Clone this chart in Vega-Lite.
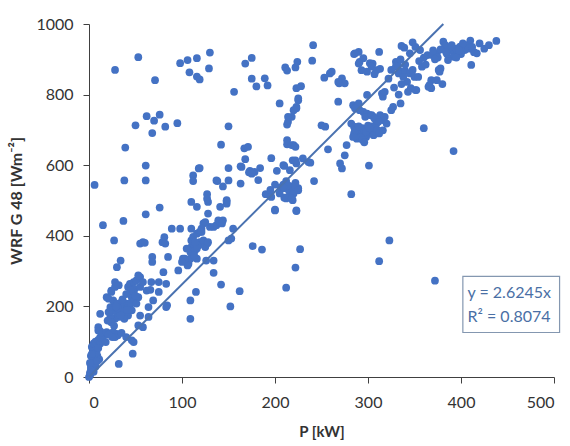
{
  "$schema": "https://vega.github.io/schema/vega-lite/v6.json",
  "width": 465,
  "height": 353,
  "autosize": "none",
  "padding": {"left": 89, "top": 24, "right": 16, "bottom": 69},
  "background": "white",
  "config": {
    "view": {"stroke": null},
    "font": "Lato",
    "axis": {
      "grid": false,
      "domainColor": "#404040",
      "tickColor": "#404040",
      "tickSize": 6,
      "labelFont": "Lato",
      "labelFontSize": 16,
      "labelColor": "#333333",
      "labelPadding": 8,
      "titleFont": "Lato",
      "titleFontSize": 15,
      "titleFontWeight": "bold",
      "titleColor": "#333333"
    }
  },
  "datasets": {
    "points": [
      {"P":0,"G":0},{"P":1,"G":5},{"P":1,"G":12},{"P":2,"G":20},{"P":2,"G":28},{"P":3,"G":35},{"P":4,"G":45},{"P":5,"G":52},{"P":2,"G":60},{"P":4,"G":70},{"P":6,"G":78},{"P":3,"G":85},{"P":8,"G":88},{"P":5,"G":95},{"P":7,"G":100},{"P":10,"G":105},{"P":12,"G":95},{"P":9,"G":60},{"P":11,"G":50},{"P":7,"G":30},{"P":4,"G":22},{"P":6,"G":40},{"P":8,"G":70},{"P":10,"G":82},{"P":12,"G":112},{"P":15,"G":113},{"P":18,"G":99},{"P":10,"G":132},{"P":10,"G":141},{"P":12,"G":130},{"P":6,"G":544},{"P":3,"G":65},{"P":1,"G":40},{"P":14,"G":125},{"P":2,"G":10},{"P":5,"G":15},{"P":9,"G":45},
      {"P":12,"G":179},{"P":19,"G":226},{"P":21,"G":222},{"P":24,"G":241},{"P":24,"G":245},{"P":28,"G":255},{"P":28,"G":269},{"P":32,"G":260},{"P":27,"G":387},{"P":30,"G":311},{"P":34,"G":330},{"P":23,"G":198},{"P":26,"G":189},{"P":30,"G":179},{"P":28,"G":165},{"P":32,"G":170},{"P":33,"G":189},{"P":37,"G":198},{"P":40,"G":208},{"P":44,"G":198},{"P":35,"G":212},{"P":26,"G":217},{"P":30,"G":208},{"P":39,"G":179},{"P":42,"G":174},{"P":46,"G":189},{"P":23,"G":170},{"P":24,"G":155},{"P":21,"G":184},{"P":36,"G":185},{"P":38,"G":165},{"P":31,"G":195},{"P":34,"G":175},{"P":29,"G":200},{"P":41,"G":190},{"P":45,"G":210},{"P":36,"G":220},{"P":20,"G":160},{"P":27,"G":145},{"P":19,"G":127},{"P":23,"G":122},{"P":26,"G":127},{"P":30,"G":122},{"P":31,"G":118},{"P":28,"G":113},{"P":25,"G":113},{"P":40,"G":113},{"P":46,"G":104},{"P":48,"G":99},{"P":47,"G":66},{"P":32,"G":37},{"P":21,"G":120},{"P":35,"G":125},{"P":42,"G":255},{"P":44,"G":264},{"P":48,"G":269},{"P":51,"G":274},{"P":55,"G":283},{"P":49,"G":250},{"P":48,"G":241},{"P":46,"G":226},{"P":49,"G":217},{"P":51,"G":208},{"P":53,"G":226},{"P":53,"G":288},{"P":45,"G":245},{"P":40,"G":235},{"P":50,"G":230},{"P":55,"G":255},{"P":53,"G":146},{"P":58,"G":141},{"P":64,"G":170},{"P":64,"G":198},{"P":55,"G":174},{"P":62,"G":245},{"P":66,"G":247},{"P":58,"G":269},{"P":67,"G":269},{"P":75,"G":269},{"P":69,"G":217},{"P":75,"G":241},
      {"P":15,"G":430},{"P":37,"G":442},{"P":61,"G":461},{"P":76,"G":480},{"P":55,"G":378},{"P":58,"G":382},{"P":60,"G":380},{"P":68,"G":340},{"P":68,"G":326},{"P":80,"G":297},{"P":83,"G":264},{"P":83,"G":198},{"P":79,"G":382},{"P":81,"G":396},{"P":82,"G":378},{"P":85,"G":340},{"P":89,"G":420},{"P":98,"G":420},{"P":96,"G":302},{"P":101,"G":335},{"P":105,"G":330},{"P":107,"G":321},{"P":109,"G":335},{"P":106,"G":316},{"P":109,"G":354},{"P":110,"G":368},{"P":112,"G":378},{"P":110,"G":387},{"P":112,"G":397},{"P":116,"G":406},{"P":119,"G":382},{"P":118,"G":373},{"P":114,"G":359},{"P":119,"G":411},{"P":121,"G":420},{"P":123,"G":387},{"P":125,"G":368},{"P":127,"G":378},{"P":128,"G":382},{"P":109,"G":217},{"P":109,"G":165},{"P":115,"G":241},{"P":126,"G":330},{"P":134,"G":330},{"P":134,"G":295},{"P":142,"G":262},{"P":128,"G":496},{"P":116,"G":482},{"P":128,"G":463},{"P":141,"G":482},{"P":148,"G":491},{"P":123,"G":435},{"P":134,"G":425},{"P":137,"G":430},{"P":141,"G":439},{"P":144,"G":444},{"P":139,"G":444},{"P":143,"G":435},{"P":130,"G":425},{"P":150,"G":387},{"P":155,"G":420},{"P":152,"G":200},{"P":162,"G":243},{"P":176,"G":371},{"P":186,"G":361},{"P":200,"G":472},{"P":212,"G":253},{"P":110,"G":496},{"P":103,"G":335},{"P":100,"G":326},{"P":116,"G":335},{"P":116,"G":364},{"P":105,"G":364},{"P":114,"G":382},{"P":110,"G":420},{"P":84,"G":203},{"P":125,"G":439},{"P":121,"G":411},{"P":153,"G":392},{"P":127,"G":505},{"P":113,"G":345},
      {"P":28,"G":870},{"P":53,"G":906},{"P":71,"G":841},{"P":39,"G":650},{"P":50,"G":713},{"P":62,"G":739},{"P":70,"G":726},{"P":76,"G":743},{"P":68,"G":691},{"P":82,"G":709},{"P":95,"G":719},{"P":61,"G":599},{"P":38,"G":557},{"P":61,"G":557},{"P":98,"G":889},{"P":106,"G":898},{"P":116,"G":903},{"P":130,"G":919},{"P":129,"G":874},{"P":108,"G":863},{"P":116,"G":851},{"P":119,"G":843},{"P":112,"G":571},{"P":112,"G":555},{"P":118,"G":591},
      {"P":168,"G":888},{"P":175,"G":904},{"P":156,"G":808},{"P":175,"G":845},{"P":180,"G":823},{"P":189,"G":846},{"P":192,"G":826},{"P":205,"G":775},{"P":211,"G":877},{"P":213,"G":868},{"P":150,"G":710},{"P":142,"G":658},{"P":167,"G":648},{"P":171,"G":652},{"P":168,"G":617},{"P":163,"G":597},{"P":173,"G":584},{"P":172,"G":580},{"P":184,"G":592},{"P":182,"G":558},{"P":196,"G":620},{"P":202,"G":584},{"P":210,"G":598},{"P":213,"G":659},{"P":213,"G":715},{"P":150,"G":592},{"P":150,"G":557},{"P":138,"G":555},{"P":144,"G":540},{"P":163,"G":548},{"P":119,"G":592},{"P":127,"G":518},{"P":148,"G":497},{"P":190,"G":518},{"P":193,"G":517},{"P":200,"G":474},{"P":206,"G":537},{"P":209,"G":545},{"P":210,"G":508},{"P":178,"G":581},{"P":175,"G":576},{"P":164,"G":595},{"P":209,"G":600},{"P":219,"G":614},{"P":223,"G":605},{"P":230,"G":619},{"P":236,"G":609},{"P":137,"G":557},{"P":148,"G":501},
      {"P":195,"G":530},{"P":200,"G":545},{"P":205,"G":520},{"P":210,"G":535},{"P":212,"G":555},{"P":215,"G":528},{"P":218,"G":540},{"P":220,"G":520},{"P":222,"G":550},{"P":225,"G":535},{"P":214,"G":510},{"P":219,"G":501},{"P":223,"G":472},{"P":214,"G":543},{"P":222,"G":538},{"P":225,"G":529},{"P":209,"G":538},{"P":212,"G":506},{"P":216,"G":586},{"P":222,"G":614},{"P":238,"G":607},{"P":196,"G":510},{"P":218,"G":506},{"P":227,"G":362},{"P":222,"G":310},{"P":242,"G":555},{"P":223,"G":470},
      {"P":222,"G":877},{"P":224,"G":893},{"P":241,"G":940},{"P":240,"G":896},{"P":253,"G":848},{"P":261,"G":865},{"P":269,"G":832},{"P":272,"G":846},{"P":275,"G":832},{"P":259,"G":860},{"P":268,"G":836},{"P":285,"G":915},{"P":290,"G":921},{"P":291,"G":893},{"P":293,"G":869},{"P":295,"G":903},{"P":286,"G":917},{"P":290,"G":888},{"P":299,"G":865},{"P":302,"G":889},{"P":305,"G":888},{"P":309,"G":869},{"P":313,"G":873},{"P":307,"G":858},{"P":312,"G":921},{"P":304,"G":879},{"P":223,"G":818},{"P":228,"G":824},{"P":225,"G":784},{"P":223,"G":761},{"P":218,"G":737},{"P":214,"G":723},{"P":214,"G":737},{"P":220,"G":756},{"P":223,"G":765},{"P":225,"G":789},{"P":213,"G":671},{"P":220,"G":657},{"P":218,"G":657},{"P":222,"G":652},{"P":268,"G":780},{"P":250,"G":713},{"P":254,"G":709},{"P":257,"G":645},{"P":277,"G":657},{"P":275,"G":628},{"P":270,"G":605},{"P":272,"G":591},{"P":301,"G":599},{"P":282,"G":518},
      {"P":284,"G":770},{"P":288,"G":765},{"P":291,"G":756},{"P":295,"G":751},{"P":299,"G":746},{"P":302,"G":742},{"P":306,"G":737},{"P":299,"G":799},{"P":315,"G":803},{"P":316,"G":794},{"P":318,"G":808},{"P":327,"G":765},{"P":325,"G":756},{"P":335,"G":775},{"P":313,"G":742},{"P":316,"G":728},{"P":316,"G":699},{"P":309,"G":718},{"P":311,"G":728},{"P":282,"G":718},{"P":285,"G":709},{"P":290,"G":775},{"P":286,"G":761},{"P":297,"G":737},{"P":304,"G":742},{"P":307,"G":732},{"P":311,"G":723},{"P":318,"G":737},{"P":320,"G":718},
      {"P":285,"G":690},{"P":288,"G":700},{"P":290,"G":685},{"P":292,"G":695},{"P":294,"G":705},{"P":296,"G":690},{"P":298,"G":680},{"P":300,"G":700},{"P":302,"G":690},{"P":304,"G":710},{"P":288,"G":675},{"P":292,"G":678},{"P":296,"G":700},{"P":300,"G":712},{"P":305,"G":695},{"P":308,"G":705},{"P":286,"G":698},{"P":290,"G":710},{"P":294,"G":672},{"P":298,"G":695},{"P":302,"G":705},{"P":306,"G":685},{"P":310,"G":700},{"P":312,"G":690},{"P":284,"G":680},{"P":296,"G":665},
      {"P":336,"G":938},{"P":339,"G":933},{"P":348,"G":948},{"P":345,"G":917},{"P":351,"G":935},{"P":356,"G":926},{"P":330,"G":893},{"P":332,"G":884},{"P":334,"G":867},{"P":333,"G":860},{"P":340,"G":867},{"P":345,"G":860},{"P":350,"G":850},{"P":342,"G":836},{"P":346,"G":818},{"P":351,"G":813},{"P":343,"G":808},{"P":358,"G":879},{"P":364,"G":912},{"P":369,"G":912},{"P":374,"G":917},{"P":381,"G":950},{"P":383,"G":940},{"P":388,"G":926},{"P":393,"G":917},{"P":399,"G":936},{"P":404,"G":926},{"P":406,"G":940},{"P":410,"G":953},{"P":420,"G":945},{"P":417,"G":917},{"P":411,"G":884},{"P":392,"G":907},{"P":386,"G":898},{"P":368,"G":841},{"P":366,"G":827},{"P":368,"G":818},{"P":374,"G":841},{"P":380,"G":830},{"P":376,"G":870},{"P":378,"G":874},{"P":438,"G":952},{"P":354,"G":850},{"P":352,"G":813},{"P":365,"G":822},{"P":377,"G":865},{"P":330,"G":880},{"P":335,"G":900},{"P":340,"G":885},{"P":325,"G":870},{"P":338,"G":850},{"P":348,"G":870},{"P":328,"G":820},{"P":333,"G":800},{"P":336,"G":830},{"P":322,"G":845},{"P":360,"G":905},{"P":370,"G":925},{"P":378,"G":928},{"P":385,"G":915},{"P":395,"G":930},{"P":400,"G":915},{"P":408,"G":930},{"P":414,"G":920},{"P":390,"G":940},{"P":375,"G":905},{"P":395,"G":905},{"P":402,"G":945},{"P":412,"G":935},{"P":425,"G":930},{"P":430,"G":940},{"P":372,"G":900},{"P":355,"G":895},{"P":362,"G":885},{"P":384,"G":920},{"P":398,"G":925},
      {"P":360,"G":705},{"P":392,"G":640},{"P":323,"G":387},{"P":312,"G":328},{"P":372,"G":273}
    ]
  },
  "layer": [
    {
      "data": {"name": "points"},
      "mark": {"type": "circle", "size": 60, "color": "#4472C4", "opacity": 1},
      "encoding": {
        "x": {"field": "P", "type": "quantitative", "title": "P [kW]", "scale": {"domain": [0, 500], "nice": false}, "axis": {"values": [0, 100, 200, 300, 400, 500], "format": "d", "labelPadding": 11, "titlePadding": 14}},
        "y": {"field": "G", "type": "quantitative", "title": "WRF G 48 [Wm⁻²]", "scale": {"domain": [0, 1000], "nice": false}, "axis": {"values": [0, 200, 400, 600, 800, 1000], "format": "d", "labelPadding": 10, "titlePadding": 11, "titleFontSize": 16}}
      }
    },
    {
      "mark": {"type": "line", "color": "#4a72b0", "strokeWidth": 2},
      "data": {"values": [{"P": 0, "G": 0}, {"P": 381, "G": 1000}]},
      "encoding": {
        "x": {"field": "P", "type": "quantitative", "title": "P [kW]"},
        "y": {"field": "G", "type": "quantitative", "title": "WRF G 48 [Wm⁻²]"}
      }
    },
    {
      "data": {"values": [{}]},
      "mark": {"type": "rect", "fill": "white", "stroke": "#8497b0", "strokeWidth": 1.2},
      "encoding": {
        "x": {"datum": 402, "type": "quantitative", "title": "P [kW]"},
        "x2": {"datum": 506},
        "y": {"datum": 126, "type": "quantitative", "title": "WRF G 48 [Wm⁻²]"},
        "y2": {"datum": 285}
      }
    },
    {
      "data": {"values": [{}]},
      "mark": {"type": "text", "align": "left", "baseline": "middle", "fontSize": 16, "color": "#4a6fa5", "font": "Lato"},
      "encoding": {
        "x": {"datum": 407, "type": "quantitative", "title": "P [kW]"},
        "y": {"datum": 237, "type": "quantitative", "title": "WRF G 48 [Wm⁻²]"},
        "text": {"value": "y = 2.6245x"}
      }
    },
    {
      "data": {"values": [{}]},
      "mark": {"type": "text", "align": "left", "baseline": "middle", "fontSize": 16, "color": "#4a6fa5", "font": "Lato"},
      "encoding": {
        "x": {"datum": 407, "type": "quantitative", "title": "P [kW]"},
        "y": {"datum": 169, "type": "quantitative", "title": "WRF G 48 [Wm⁻²]"},
        "text": {"value": "R² = 0.8074"}
      }
    }
  ]
}
